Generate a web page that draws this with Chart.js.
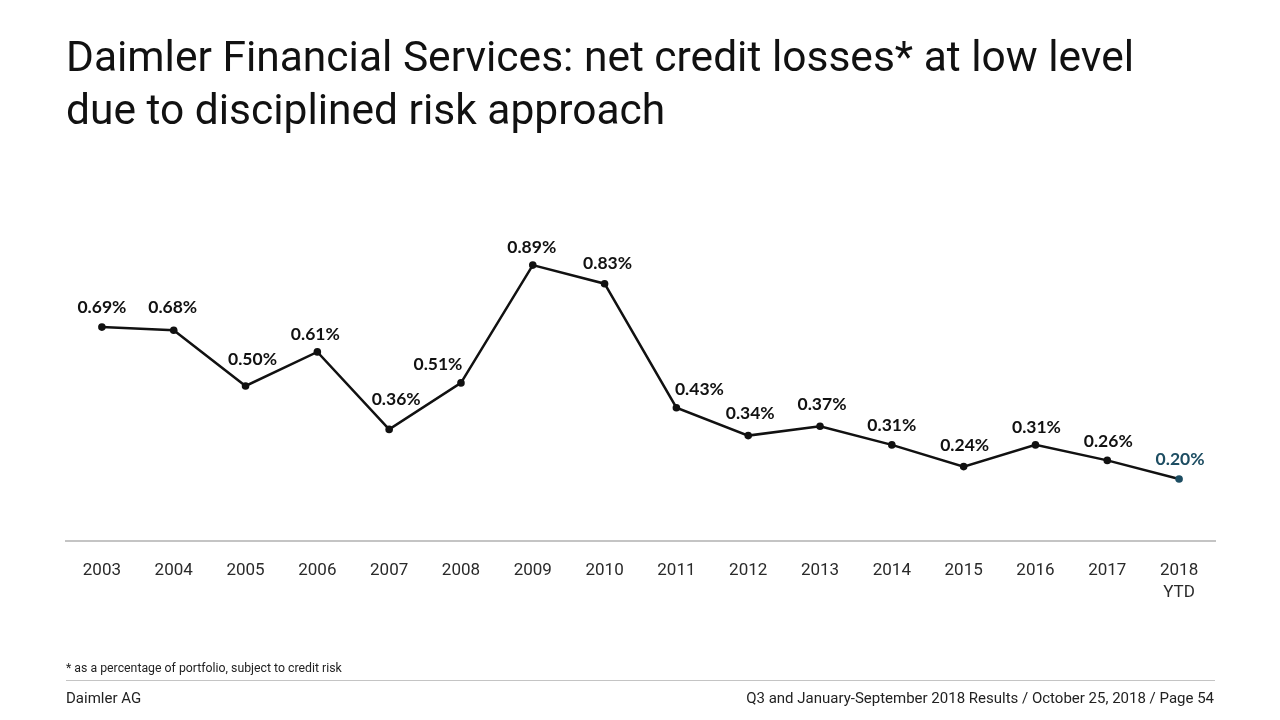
<!DOCTYPE html>
<html>
<head>
<meta charset="utf-8">
<script src="https://cdn.jsdelivr.net/npm/chart.js@4/dist/chart.umd.min.js"></script>
<style>
  html, body { margin: 0; padding: 0; background: #fff; }
  body { width: 1280px; height: 720px; position: relative; overflow: hidden; font-family: Roboto, "Liberation Sans", sans-serif; }
  #wrap { position: absolute; left: 0; top: 0; width: 1280px; height: 720px; }
  .title { position: absolute; left: 66px; top: 30px; font-size: 42.5px; line-height: 53px; color: #111; margin: 0; font-weight: 400; white-space: nowrap; }
  .note { position: absolute; left: 66px; top: 661px; font-size: 12.3px; color: #222; white-space: nowrap; }
  .sep { position: absolute; left: 66px; width: 1149px; top: 680px; height: 1px; background: #c4c4c4; }
  .foot-l { position: absolute; left: 66px; top: 689px; font-size: 15px; color: #222; }
  .foot-r { position: absolute; right: 66px; top: 689px; font-size: 15px; color: #222; white-space: nowrap; }
</style>
</head>
<body>
<div id="wrap"><canvas id="c" width="1280" height="720"></canvas></div>
<h1 class="title">Daimler Financial Services: net credit losses* at low level<br>due to disciplined risk approach</h1>
<div class="note">* as a percentage of portfolio, subject to credit risk</div>
<div class="sep"></div>
<div class="foot-l">Daimler AG</div>
<div class="foot-r">Q3 and January-September 2018 Results / October 25, 2018 / Page 54</div>
<script>
const years = ['2003','2004','2005','2006','2007','2008','2009','2010','2011','2012','2013','2014','2015','2016','2017',['2018','YTD']];
const lossRates = [0.69, 0.68, 0.50, 0.61, 0.36, 0.51, 0.89, 0.83, 0.43, 0.34, 0.37, 0.31, 0.24, 0.31, 0.26, 0.20];
const valueLabels = ['0.69%','0.68%','0.50%','0.61%','0.36%','0.51%','0.89%','0.83%','0.43%','0.34%','0.37%','0.31%','0.24%','0.31%','0.26%','0.20%'];

const dark = '#111111';
const teal = '#1d4d62';
const pointColors = lossRates.map((v, i) => i === lossRates.length - 1 ? teal : dark);
// label offsets (style): dx, dy relative to the point
const labelShift = [[0,-20],[-1,-23],[7,-27],[-2,-18],[7,-30],[-23,-19],[-1,-18],[3,-20],[23,-18],[2,-22],[2,-22],[0,-20],[1,-21],[1,-18],[1,-19],[1,-20]];

const labelPlugin = {
  id: 'valueLabels',
  afterDatasetsDraw(chart) {
    const ctx = chart.ctx;
    const meta = chart.getDatasetMeta(0);
    ctx.save();
    ctx.font = 'bold 17.5px Lato, "Open Sans", sans-serif';
    ctx.textAlign = 'center';
    ctx.textBaseline = 'middle';
    meta.data.forEach((pt, i) => {
      ctx.fillStyle = pointColors[i];
      ctx.fillText(valueLabels[i], pt.x + labelShift[i][0], pt.y + labelShift[i][1]);
    });
    ctx.restore();
  }
};

new Chart(document.getElementById('c'), {
  type: 'line',
  data: {
    labels: years,
    datasets: [{
      data: lossRates,
      borderColor: dark,
      borderWidth: 2.5,
      pointRadius: 3.8,
      pointHoverRadius: 3.8,
      pointBackgroundColor: pointColors,
      pointBorderColor: pointColors,
      pointBorderWidth: 0,
      tension: 0,
      clip: false
    }]
  },
  options: {
    responsive: false,
    animation: false,
    devicePixelRatio: 1,
    layout: { padding: { left: 66, right: 65, top: 231, bottom: 0 } },
    plugins: { legend: { display: false }, tooltip: { enabled: false } },
    scales: {
      x: {
        offset: true,
        grid: { display: false },
        border: { display: true, color: '#c4c4c4', width: 2 },
        ticks: { color: '#2a2a2a', padding: 11, font: { family: 'Roboto', size: 17, lineHeight: 1.3 }, maxRotation: 0, autoSkip: false },
        afterFit(scale) { scale.height = 179; }
      },
      y: { display: false, min: 0, max: 1.0 }
    }
  },
  plugins: [labelPlugin]
});
</script>
</body>
</html>
